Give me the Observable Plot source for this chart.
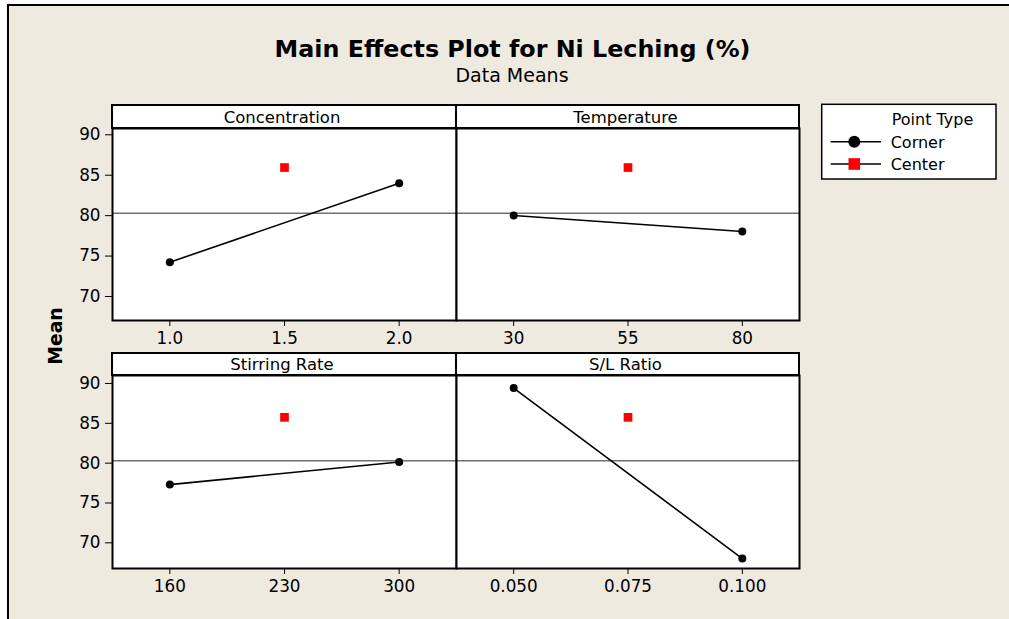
<!DOCTYPE html>
<html>
<head>
<meta charset="utf-8">
<script src="https://cdn.jsdelivr.net/npm/d3@7"></script>
<script src="https://cdn.jsdelivr.net/npm/@observablehq/plot@0.6"></script>
<style>
  html, body { margin: 0; padding: 0; background: #ffffff; }
  #fig { position: relative; width: 1009px; height: 619px; overflow: hidden; font-family: "DejaVu Sans", Verdana, sans-serif; }
  #fig > svg, #fig > div { position: absolute; }
</style>
</head>
<body>
<div id="fig"></div>
<script>
// ---------------- data ----------------
const chartTitle = "Main Effects Plot for Ni Leching (%)";
const chartSubtitle = "Data Means";
const yAxisLabel = "Mean";
const factors = ["Concentration", "Temperature", "Stirring Rate", "S/L Ratio"];
const lowLevels = [1.0, 30, 160, 0.050];
const centerLevels = [1.5, 55, 230, 0.075];
const highLevels = [2.0, 80, 300, 0.100];
const lowMeans = [74.24, 80.02, 77.31, 89.42];
const highMeans = [84.01, 78.04, 80.15, 68.03];
const centerMeans = [85.95, 85.95, 85.75, 85.75];
const xTickLabels = [
  ["1.0", "1.5", "2.0"],
  ["30", "55", "80"],
  ["160", "230", "300"],
  ["0.050", "0.075", "0.100"]
];
const yTicks = [70, 75, 80, 85, 90];
const grandMean = 80.3;
const legendTitle = "Point Type";
const legendLabels = ["Corner", "Center"];

// ---------------- layout ----------------
const BG = "#EEEAE0";
const FONT = '"DejaVu Sans", Verdana, sans-serif';
const cols = [[112, 456], [456, 799]];
const rows = [
  {hTop: 105, top: 128, bottom: 320, domain: [67.03, 90.78]},
  {hTop: 353, top: 375, bottom: 568, domain: [66.78, 91.0]}
];
const fig = document.getElementById("fig");
const NS = "http://www.w3.org/2000/svg";

function el(tag, attrs, parent, text) {
  const e = document.createElementNS(NS, tag);
  for (const k in attrs) e.setAttribute(k, attrs[k]);
  if (text != null) e.textContent = text;
  if (parent) parent.appendChild(e);
  return e;
}

// background / annotation layer
const bg = el("svg", {width: 1009, height: 619, style: "left:0;top:0"}, fig);
el("rect", {x: 8, y: 5, width: 1001, height: 614, fill: BG}, bg);
el("path", {d: "M8,619V5H1009", fill: "none", stroke: "#000", "stroke-width": 2}, bg);
el("text", {x: 512.5, y: 57.3, "text-anchor": "middle", "font-family": FONT, "font-weight": "bold", "font-size": 23.8, fill: "#000"}, bg, chartTitle);
el("text", {x: 512, y: 82, "text-anchor": "middle", "font-family": FONT, "font-size": 19, fill: "#000"}, bg, chartSubtitle);
el("text", {transform: "translate(62.3,336) rotate(-90)", "text-anchor": "middle", "font-family": FONT, "font-weight": "bold", "font-size": 18.8, fill: "#000"}, bg, yAxisLabel);

// legend
el("rect", {x: 821.7, y: 104.3, width: 174.3, height: 74.7, fill: "#fff", stroke: "#000", "stroke-width": 1.5}, bg);
el("text", {x: 891.7, y: 125, "font-family": FONT, "font-size": 16, fill: "#000"}, bg, legendTitle);
const legY = [141.7, 164];
legendLabels.forEach((lab, i) => {
  el("line", {x1: 830.7, x2: 881, y1: legY[i], y2: legY[i], stroke: "#000", "stroke-width": 1.5}, bg);
  if (i === 0) el("circle", {cx: 854.3, cy: legY[i], r: 6, fill: "#000"}, bg);
  else el("rect", {x: 854.3 - 5.8, y: legY[i] - 5.8, width: 11.6, height: 11.6, fill: "#ff0000"}, bg);
  el("text", {x: 890.7, y: legY[i] + 5.8, "font-family": FONT, "font-size": 16, fill: "#000"}, bg, lab);
});

// panels
factors.forEach((name, p) => {
  const r = rows[Math.floor(p / 2)];
  const c = cols[p % 2];
  const [L, R] = c;
  // header strip
  el("rect", {x: L, y: r.hTop, width: R - L, height: r.top - r.hTop, fill: "#fff", stroke: "#000", "stroke-width": 2}, bg);
  el("text", {x: (L + R) / 2 - 2, y: r.top - 5, "text-anchor": "middle", "font-family": FONT, "font-size": 16.5, fill: "#000"}, bg, name);

  const lo = lowLevels[p], hi = highLevels[p], span = hi - lo;
  const corner = [
    {level: lo, mean: lowMeans[p]},
    {level: hi, mean: highMeans[p]}
  ];
  const center = [{level: centerLevels[p], mean: centerMeans[p]}];
  const ticks = [lo, centerLevels[p], hi];
  const labelMap = new Map(ticks.map((t, i) => [t, xTickLabels[p][i]]));

  const mL = 60, mR = 10, mT = 4, mB = 40;
  const chart = Plot.plot({
    width: R - L + mL + mR,
    height: r.bottom - r.top + mT + mB,
    marginLeft: mL, marginRight: mR, marginTop: mT, marginBottom: mB,
    style: {background: "transparent", overflow: "visible", fontFamily: FONT, fontSize: "16.8px", color: "#000"},
    x: {domain: [lo - 0.25 * span, hi + 0.25 * span], ticks, tickFormat: d => labelMap.get(d), tickSize: 6, tickPadding: 6, label: null},
    y: {domain: r.domain, ticks: yTicks, tickSize: 7, tickPadding: 5, label: null, axis: p % 2 === 0 ? "left" : null},
    marks: [
      Plot.frame({fill: "#fff"}),
      Plot.ruleY([grandMean], {stroke: "#707070", strokeWidth: 1.5}),
      Plot.line(corner, {x: "level", y: "mean", stroke: "#000", strokeWidth: 1.6}),
      Plot.dot(corner, {x: "level", y: "mean", r: 4, fill: "#000", stroke: "none"}),
      Plot.dot(center, {x: "level", y: "mean", symbol: "square", r: 4.9, fill: "#ff0000", stroke: "none"}),
      Plot.frame({stroke: "#000", strokeWidth: 2})
    ]
  });
  chart.style.position = "absolute";
  chart.style.left = (L - mL) + "px";
  chart.style.top = (r.top - mT) + "px";
  fig.appendChild(chart);
});
</script>
</body>
</html>
